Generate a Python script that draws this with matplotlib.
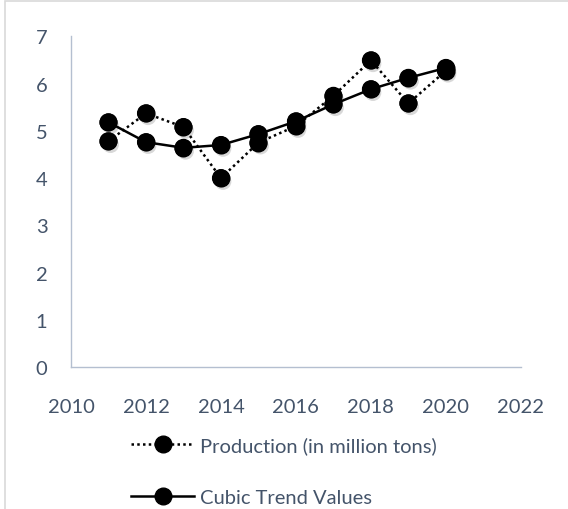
import matplotlib.pyplot as plt
import matplotlib.patheffects as pe
from matplotlib.patches import Rectangle

years = [2011, 2012, 2013, 2014, 2015, 2016, 2017, 2018, 2019, 2020]
production = [4.78, 5.37, 5.08, 4.00, 4.75, 5.10, 5.74, 6.49, 5.58, 6.27]
cubic_trend = [5.18, 4.76, 4.64, 4.70, 4.93, 5.20, 5.56, 5.88, 6.12, 6.33]
x_ticks = [2010, 2012, 2014, 2016, 2018, 2020, 2022]
y_ticks = [0, 1, 2, 3, 4, 5, 6, 7]

plt.rcParams['font.family'] = ['Lato', 'DejaVu Sans']
txt = '#44546A'
axis_col = '#B4BFD0'

fig = plt.figure(figsize=(5.68, 5.1), dpi=100)
ax = fig.add_axes([0.125, 0.278, 0.792, 0.649])

shadow = [pe.SimplePatchShadow(offset=(1.5, -2.5), alpha=0.3, shadow_rgbFace='gray'), pe.Normal()]

# lines + markers (used for legend)
l1, = ax.plot(years, production, linestyle=(0, (1, 1.3)), linewidth=1.8, color='black',
              marker='o', markersize=12, label='Production (in million tons)')
l2, = ax.plot(years, cubic_trend, linestyle='-', linewidth=1.8, color='black',
              marker='o', markersize=12, label='Cubic Trend Values')
# marker shadows
for vals in (production, cubic_trend):
    ax.plot(years, vals, linestyle='none', marker='o', markersize=12,
            color='black', path_effects=shadow, zorder=1.9)

ax.set_xlim(2010, 2022)
ax.set_ylim(0, 7)
ax.set_xticks(x_ticks)
ax.set_yticks(y_ticks)
ax.tick_params(length=0, labelsize=14.5, labelcolor=txt)
ax.tick_params(axis='x', pad=22)
ax.tick_params(axis='y', pad=17)
for s in ['top', 'right']:
    ax.spines[s].set_visible(False)
for s in ['left', 'bottom']:
    ax.spines[s].set_color(axis_col)
    ax.spines[s].set_linewidth(1)

leg = fig.legend([l1, l2], [l1.get_label(), l2.get_label()], loc='upper center',
                 bbox_to_anchor=(0.5, 0.178), frameon=False, ncol=1,
                 handlelength=3.1, labelspacing=1.7, fontsize=14.5,
                 handletextpad=0.3)
for t in leg.get_texts():
    t.set_color(txt)

fig.patches.append(Rectangle((0.009, -0.01), 1.0, 1.006, transform=fig.transFigure,
                             fill=False, edgecolor='#D9D9D9', linewidth=1.2))

fig.savefig('out.png', dpi=100)
